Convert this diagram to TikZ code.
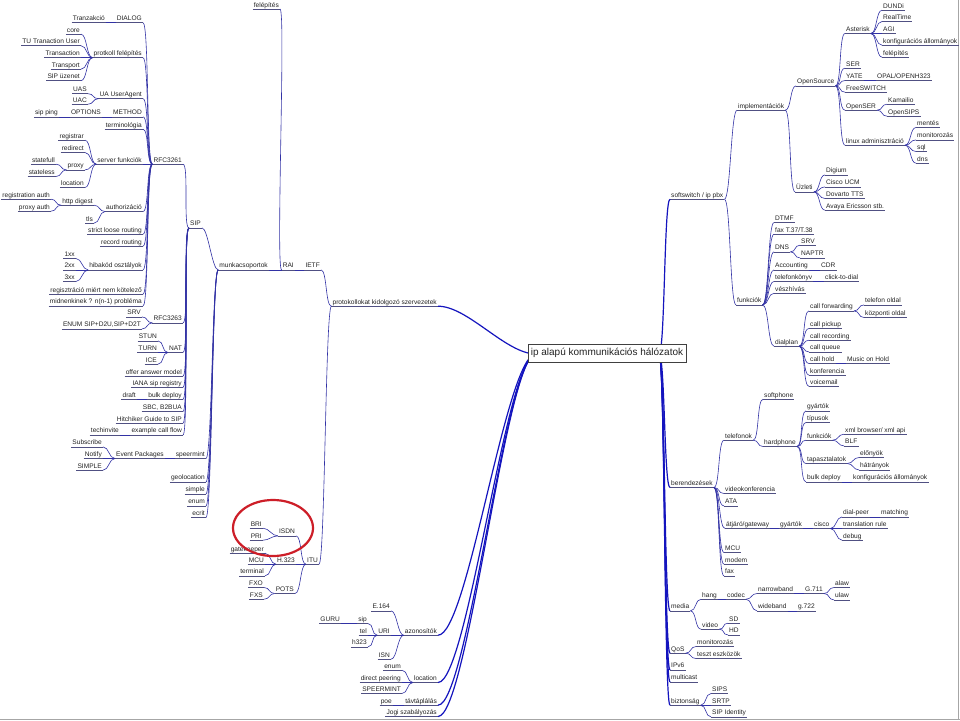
\documentclass[tikz,border=0pt]{standalone}
\usepackage{fontspec}
\setmainfont{Liberation Sans}
\definecolor{edc}{RGB}{50,50,165}
\definecolor{ulc}{RGB}{80,80,130}
\definecolor{rootc}{RGB}{20,20,190}
\definecolor{txt}{RGB}{35,35,35}
\definecolor{circ}{RGB}{205,30,40}
\tikzset{
  nd/.style={inner xsep=1pt, inner ysep=0.6pt, font=\fontsize{6.6}{8}\selectfont, text=txt, text height=4.8pt, text depth=1.2pt},
  ul/.style={draw=ulc, line width=0.5pt},
  edg/.style={draw=edc, line width=0.6pt},
  redg/.style={draw=rootc, line width=1.2pt},
  rootbox/.style={draw=black!75, fill=white, line width=0.6pt, font=\fontsize{10}{12}\selectfont, text=txt, minimum width=158pt, minimum height=18pt, inner sep=1pt}
}
\newcommand\Lnode[4]{\node[nd,anchor=south east] (#1) at (#2,#3) {#4}; \draw[ul] (#1.south west) -- (#1.south east);}
\newcommand\Rnode[4]{\node[nd,anchor=south west] (#1) at (#2,#3) {#4}; \draw[ul] (#1.south west) -- (#1.south east);}
\newcommand\Ledge[3][6]{\draw[edg] (#2.south west) .. controls +(-#1,0) and +(#1,0) .. (#3.south east);}
\newcommand\Redge[3][6]{\draw[edg] (#2.south east) .. controls +(#1,0) and +(-#1,0) .. (#3.south west);}
\begin{document}
\begin{tikzpicture}[x=1pt,y=-1pt]
\useasboundingbox (0,0) rectangle (960,720);
\fill[white] (0,0) rectangle (960,720);
\draw[gray!70, line width=0.8pt] (958.5,0) -- (958.5,720);
\draw[gray!70, line width=0.8pt] (0,719) -- (960,719);

% ---------------- left side nodes ----------------
\Lnode{felep}{280}{9}{felépítés}
\Lnode{ietf}{321}{269.9}{IETF}
\Lnode{rai}{295}{269.9}{RAI}
\Lnode{munka}{269}{269.9}{munkacsoportok}
\Lnode{sip}{202}{227.9}{SIP}
\Lnode{rfc3261}{183}{164.2}{RFC3261}
\Lnode{dialog}{143}{22.7}{DIALOG}
\Lnode{tranz}{106}{22.7}{Tranzakció}
\Lnode{protf}{143}{57.7}{protkoll felépítés}
\Lnode{core}{81}{34.2}{core}
\Lnode{tutu}{81}{45.7}{TU Tranaction User}
\Lnode{transac}{81}{57.7}{Transaction}
\Lnode{transp}{81}{69.2}{Transport}
\Lnode{sipuz}{81}{80.7}{SIP üzenet}
\Lnode{uaua}{143}{98.7}{UA UserAgent}
\Lnode{uas}{88}{93.7}{UAS}
\Lnode{uac}{88}{104.2}{UAC}
\Lnode{method}{143}{116.9}{METHOD}
\Lnode{options}{102}{116.9}{OPTIONS}
\Lnode{sipping}{59}{116.9}{sip ping}
\Lnode{termin}{143}{129.2}{terminológia}
\Lnode{serverf}{143}{164.2}{server funkciók}
\Lnode{registrar}{85}{140.2}{registrar}
\Lnode{redirect}{85}{152.5}{redirect}
\Lnode{proxy}{85}{169.9}{proxy}
\Lnode{statefull}{56}{164.2}{statefull}
\Lnode{stateless}{56}{176.5}{stateless}
\Lnode{locat}{85}{187.5}{location}
\Lnode{authz}{143}{211.5}{authorizáció}
\Lnode{httpd}{94}{205.2}{http digest}
\Lnode{regauth}{51}{199.2}{registration auth}
\Lnode{proxyauth}{51}{211.2}{proxy auth}
\Lnode{tls}{94}{223.2}{tls}
\Lnode{strict}{143}{234.2}{strict loose routing}
\Lnode{record}{143}{246.2}{record routing}
\Lnode{hibak}{143}{269.9}{hibakód osztályok}
\Lnode{xa}{76}{258.5}{1xx}
\Lnode{xb}{76}{269.9}{2xx}
\Lnode{xc}{76}{281.5}{3xx}
\Lnode{regmiert}{143}{294.2}{regisztráció miért nem kötelező}
\Lnode{midnen}{143}{305.9}{midnenkinek ? n(n-1) probléma}
\Lnode{rfcb}{183}{322.9}{RFC3263}
\Lnode{srvl}{142}{316.9}{SRV}
\Lnode{enumsip}{142}{328.9}{ENUM SIP+D2U,SIP+D2T}
\Lnode{nat}{183}{352.5}{NAT}
\Lnode{stun}{158}{340.9}{STUN}
\Lnode{turn}{158}{352.5}{TURN}
\Lnode{ice}{158}{364.2}{ICE}
\Lnode{offer}{183}{376.2}{offer answer model}
\Lnode{iana}{183}{387.5}{IANA sip registry}
\Lnode{bulkl}{183}{399.5}{bulk deploy}
\Lnode{draft}{137}{399.5}{draft}
\Lnode{sbc}{183}{411.5}{SBC, B2BUA}
\Lnode{hitch}{183}{423.2}{Hitchiker Guide to SIP}
\Lnode{example}{183}{434.9}{example call flow}
\Lnode{techinv}{120}{434.9}{techinvite}
\Lnode{speer}{206}{458.5}{speermint}
\Lnode{eventp}{165}{458.5}{Event Packages}
\Lnode{subscr}{103}{446.9}{Subscribe}
\Lnode{notify}{103}{458.5}{Notify}
\Lnode{simpleu}{103}{470.2}{SIMPLE}
\Lnode{geoloc}{206}{481.9}{geolocation}
\Lnode{simplel}{206}{493.9}{simple}
\Lnode{enuml}{206}{505.9}{enum}
\Lnode{ecrit}{206}{517.5}{ecrit}
\Lnode{protok}{438}{306.2}{protokollokat kidolgozó szervezetek}
\Lnode{itu}{319}{564.2}{ITU}
\Lnode{isdn}{296}{535.9}{ISDN}
\Lnode{bri}{263}{528.2}{BRI}
\Lnode{pri}{263}{540.2}{PRI}
\Lnode{hhh}{296}{564.2}{H.323}
\Lnode{gatek}{265}{553.2}{gatekeeper}
\Lnode{mcul}{265}{564.2}{MCU}
\Lnode{termi}{265}{575.9}{terminal}
\Lnode{pots}{295}{593.5}{POTS}
\Lnode{fxo}{264}{587.5}{FXO}
\Lnode{fxs}{264}{599.2}{FXS}
\Lnode{azon}{438}{635.2}{azonosítók}
\Lnode{eeee}{391}{610.9}{E.164}
\Lnode{uri}{391}{635.2}{URI}
\Lnode{sipu}{368}{623.5}{sip}
\Lnode{guru}{341}{623.5}{GURU}
\Lnode{tel}{368}{635.2}{tel}
\Lnode{hhtt}{368}{646.9}{h323}
\Lnode{isn}{391}{659.2}{ISN}
\Lnode{locb}{438}{682.5}{location}
\Lnode{enumb}{402}{670.2}{enum}
\Lnode{direct}{402}{682.5}{direct peering}
\Lnode{speerm}{402}{693.5}{SPEERMINT}
\Lnode{tavt}{438}{705.2}{távtáplálás}
\Lnode{poe}{393}{705.2}{poe}
\Lnode{jogi}{438}{716.5}{Jogi szabályozás}

% ---------------- right side nodes ----------------
\Rnode{soft}{670}{199.2}{softswitch / ip pbx}
\Rnode{impl}{737}{110.2}{implementációk}
\Rnode{opens}{796}{85.9}{OpenSource}
\Rnode{aster}{845}{33.5}{Asterisk}
\Rnode{dundi}{882}{10.2}{DUNDi}
\Rnode{realt}{882}{21.5}{RealTime}
\Rnode{agi}{882}{33.5}{AGI}
\Rnode{konfa}{882}{45.2}{konfigurációs állományok}
\Rnode{felepr}{882}{57.2}{felépítés}
\Rnode{ser}{845}{68.2}{SER}
\Rnode{yate}{845}{80.5}{YATE}
\Rnode{opal}{876}{80.5}{OPAL/OPENH323}
\Rnode{fsw}{845}{92.2}{FreeSWITCH}
\Rnode{openser}{845}{110.2}{OpenSER}
\Rnode{kama}{887}{104.2}{Kamailio}
\Rnode{opensips}{887}{116.2}{OpenSIPS}
\Rnode{linux}{845}{145.2}{linux adminisztráció}
\Rnode{mentes}{916}{127.5}{mentés}
\Rnode{monit}{916}{139.9}{monitorozás}
\Rnode{sql}{916}{151.5}{sql}
\Rnode{dns}{916}{163.2}{dns}
\Rnode{uzleti}{795}{191.9}{Üzleti}
\Rnode{digium}{825}{174.9}{Digium}
\Rnode{ciscoucm}{825}{186.9}{Cisco UCM}
\Rnode{dovarto}{825}{198.5}{Dovarto TTS}
\Rnode{avaya}{825}{210.2}{Avaya Ericsson stb.}
\Rnode{funk}{736}{304.9}{funkciók}
\Rnode{dtmf}{774}{222.5}{DTMF}
\Rnode{faxt}{774}{234.2}{fax T.37/T.38}
\Rnode{dnsu}{774}{251.9}{DNS}
\Rnode{srvr}{800}{245.2}{SRV}
\Rnode{naptr}{800}{257.9}{NAPTR}
\Rnode{acct}{774}{269.9}{Accounting}
\Rnode{cdr}{820}{269.9}{CDR}
\Rnode{telk}{774}{281.5}{telefonkönyv}
\Rnode{ctd}{824}{281.5}{click-to-dial}
\Rnode{vesz}{774}{293.2}{vészhívás}
\Rnode{dialp}{774}{346.2}{dialplan}
\Rnode{callfw}{809}{310.9}{call forwarding}
\Rnode{telo}{864}{304.9}{telefon oldal}
\Rnode{kozp}{864}{317.5}{központi oldal}
\Rnode{pickup}{809}{328.5}{call pickup}
\Rnode{recordr}{809}{340.2}{call recording}
\Rnode{queue}{809}{351.9}{call queue}
\Rnode{hold}{809}{363.5}{call hold}
\Rnode{moh}{846}{363.5}{Music on Hold}
\Rnode{konfer}{809}{375.2}{konferencia}
\Rnode{voicem}{809}{386.5}{voicemail}
\Rnode{beren}{670}{487.5}{berendezések}
\Rnode{telef}{724}{440.2}{telefonok}
\Rnode{softp}{763}{399.2}{softphone}
\Rnode{hardp}{763}{446.5}{hardphone}
\Rnode{gyarta}{806}{410.9}{gyártók}
\Rnode{tipus}{806}{422.5}{típusok}
\Rnode{funkb}{806}{440.2}{funkciók}
\Rnode{xmlb}{844}{434.2}{xml browser/ xml api}
\Rnode{blf}{844}{445.9}{BLF}
\Rnode{tapasz}{806}{463.5}{tapasztalatok}
\Rnode{elony}{859}{457.5}{előnyök}
\Rnode{hatr}{859}{469.9}{hátrányok}
\Rnode{bulkr}{806}{481.9}{bulk deploy}
\Rnode{konfb}{852}{481.9}{konfigurációs állományok}
\Rnode{videok}{724}{493.5}{videokonferencia}
\Rnode{ata}{724}{505.9}{ATA}
\Rnode{atjaro}{725}{528.5}{átjáró/gateway}
\Rnode{gyartb}{779}{528.5}{gyártók}
\Rnode{ciscog}{813}{528.5}{cisco}
\Rnode{dialpeer}{842}{516.9}{dial-peer}
\Rnode{matching}{880}{516.9}{matching}
\Rnode{transl}{842}{528.5}{translation rule}
\Rnode{debug}{842}{540.2}{debug}
\Rnode{mcur}{724}{552.5}{MCU}
\Rnode{modem}{724}{564.2}{modem}
\Rnode{fax}{724}{575.9}{fax}
\Rnode{media}{670}{610.9}{media}
\Rnode{hang}{701}{599.2}{hang}
\Rnode{codec}{726}{599.2}{codec}
\Rnode{narrow}{757}{593.5}{narrowband}
\Rnode{gsza}{804}{593.5}{G.711}
\Rnode{alaw}{834}{587.5}{alaw}
\Rnode{ulaw}{834}{599.9}{ulaw}
\Rnode{wide}{757}{610.9}{wideband}
\Rnode{gszb}{797}{610.9}{g.722}
\Rnode{videom}{701}{629.2}{video}
\Rnode{sd}{728}{623.2}{SD}
\Rnode{hd}{728}{634.9}{HD}
\Rnode{qos}{670}{653.2}{QoS}
\Rnode{monq}{696}{646.5}{monitorozás}
\Rnode{teszt}{696}{658.5}{teszt eszközök}
\Rnode{ipv}{670}{669.9}{IPv6}
\Rnode{multi}{670}{681.9}{multicast}
\Rnode{bizt}{670}{705.2}{biztonság}
\Rnode{sips}{711}{693.5}{SIPS}
\Rnode{srtp}{711}{705.2}{SRTP}
\Rnode{sipid}{711}{716.9}{SIP Identity}

% ---------------- left edges ----------------
\Ledge{rai}{felep}
\Ledge{ietf}{rai}
\Ledge{rai}{munka}
\foreach \c in {sip,speer,geoloc,simplel,enuml,ecrit} {\Ledge{munka}{\c}}
\foreach \c in {rfc3261,rfcb,nat,offer,iana,bulkl,sbc,hitch,example} {\Ledge{sip}{\c}}
\foreach \c in {dialog,protf,uaua,method,termin,serverf,authz,strict,record,hibak,regmiert,midnen} {\Ledge{rfc3261}{\c}}
\Ledge{dialog}{tranz}
\foreach \c in {core,tutu,transac,transp,sipuz} {\Ledge{protf}{\c}}
\Ledge{uaua}{uas} \Ledge{uaua}{uac}
\Ledge{method}{options} \Ledge{options}{sipping}
\foreach \c in {registrar,redirect,proxy,locat} {\Ledge{serverf}{\c}}
\Ledge{proxy}{statefull} \Ledge{proxy}{stateless}
\Ledge{authz}{httpd} \Ledge{authz}{tls}
\Ledge{httpd}{regauth} \Ledge{httpd}{proxyauth}
\Ledge{hibak}{xa} \Ledge{hibak}{xb} \Ledge{hibak}{xc}
\Ledge{rfcb}{srvl} \Ledge{rfcb}{enumsip}
\Ledge{nat}{stun} \Ledge{nat}{turn} \Ledge{nat}{ice}
\Ledge{bulkl}{draft}
\Ledge{example}{techinv}
\Ledge{speer}{eventp}
\Ledge{eventp}{subscr} \Ledge{eventp}{notify} \Ledge{eventp}{simpleu}
\Ledge{protok}{ietf} \Ledge{protok}{itu}
\Ledge{itu}{isdn} \Ledge{itu}{hhh} \Ledge{itu}{pots}
\Ledge{isdn}{bri} \Ledge{isdn}{pri}
\Ledge{hhh}{gatek} \Ledge{hhh}{mcul} \Ledge{hhh}{termi}
\Ledge{pots}{fxo} \Ledge{pots}{fxs}
\Ledge{azon}{eeee} \Ledge{azon}{uri} \Ledge{azon}{isn}
\Ledge{uri}{sipu} \Ledge{uri}{tel} \Ledge{uri}{hhtt}
\Ledge{sipu}{guru}
\Ledge{locb}{enumb} \Ledge{locb}{direct} \Ledge{locb}{speerm}
\Ledge{tavt}{poe}

% ---------------- right edges ----------------
\Redge{soft}{impl} \Redge{soft}{funk}
\Redge{impl}{opens} \Redge{impl}{uzleti}
\foreach \c in {aster,ser,yate,fsw,openser,linux} {\Redge{opens}{\c}}
\foreach \c in {dundi,realt,agi,konfa,felepr} {\Redge{aster}{\c}}
\Redge{yate}{opal}
\Redge{openser}{kama} \Redge{openser}{opensips}
\foreach \c in {mentes,monit,sql,dns} {\Redge{linux}{\c}}
\foreach \c in {digium,ciscoucm,dovarto,avaya} {\Redge{uzleti}{\c}}
\foreach \c in {dtmf,faxt,dnsu,acct,telk,vesz,dialp} {\Redge{funk}{\c}}
\Redge{dnsu}{srvr} \Redge{dnsu}{naptr}
\Redge{acct}{cdr}
\Redge{telk}{ctd}
\foreach \c in {callfw,pickup,recordr,queue,hold,konfer,voicem} {\Redge{dialp}{\c}}
\Redge{callfw}{telo} \Redge{callfw}{kozp}
\Redge{hold}{moh}
\foreach \c in {telef,videok,ata,atjaro,mcur,modem,fax} {\Redge{beren}{\c}}
\Redge{telef}{softp} \Redge{telef}{hardp}
\foreach \c in {gyarta,tipus,funkb,tapasz,bulkr} {\Redge{hardp}{\c}}
\Redge{funkb}{xmlb} \Redge{funkb}{blf}
\Redge{tapasz}{elony} \Redge{tapasz}{hatr}
\Redge{bulkr}{konfb}
\Redge{atjaro}{gyartb} \Redge{gyartb}{ciscog}
\Redge{ciscog}{dialpeer} \Redge{ciscog}{transl} \Redge{ciscog}{debug}
\Redge{dialpeer}{matching}
\Redge{media}{hang} \Redge{media}{videom}
\Redge{hang}{codec}
\Redge{codec}{narrow} \Redge{codec}{wide}
\Redge{narrow}{gsza} \Redge{gsza}{alaw} \Redge{gsza}{ulaw}
\Redge{wide}{gszb}
\Redge{videom}{sd} \Redge{videom}{hd}
\Redge{qos}{monq} \Redge{qos}{teszt}
\Redge{bizt}{sips} \Redge{bizt}{srtp} \Redge{bizt}{sipid}

% ---------------- root ----------------
\coordinate (rl) at (536,354);
\coordinate (rr) at (659,354);
\foreach \c in {protok,azon,locb,tavt,jogi} {\draw[redg] (rl) .. controls +(-30,0) and +(30,0) .. (\c.south east);}
\foreach \c in {soft,beren,media,qos,ipv,multi,bizt} {\draw[redg] (rr) .. controls +(6,0) and +(-6,0) .. (\c.south west);}
\node[rootbox] (root) at (607,353) {ip alapú kommunikációs hálózatok};

% ---------------- red mark ----------------
\draw[circ, line width=2.2pt] (273,528) ellipse [x radius=40pt, y radius=28pt];
\end{tikzpicture}
\end{document}
